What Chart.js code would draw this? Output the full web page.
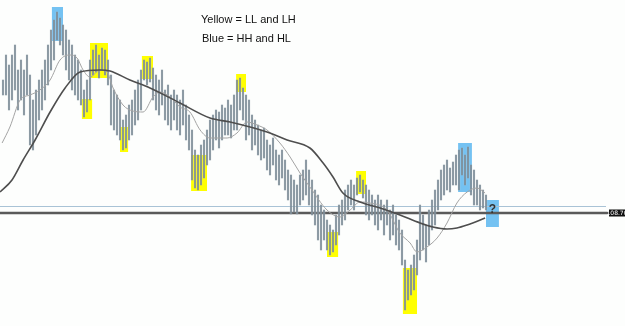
<!DOCTYPE html>
<html>
<head>
<meta charset="utf-8">
<title>LL / LH vs HH / HL</title>
<script src="https://cdn.jsdelivr.net/npm/chart.js@4.4.1/dist/chart.umd.min.js"></script>
<style>
  body { margin: 0; background: #fdfefd; }
  canvas { display: block; }
</style>
</head>
<body>
<canvas id="priceChart" width="625" height="326"></canvas>
<script>
// Bar highs and lows, one per bar
const barHighs = [
  122.0, 124.5, 123.5, 124.5, 125.5, 123.0, 124.0, 123.0, 124.5, 122.5,
  120.0, 121.0, 122.0, 123.0, 124.0, 125.5, 127.0, 128.0, 128.8, 128.2,
  127.5, 127.0, 126.0, 125.5, 124.5, 124.0, 123.0, 121.0, 122.0, 124.0,
  125.0, 125.5, 124.5, 125.2, 125.0, 124.0, 122.5, 121.0, 120.5, 120.0,
  118.0, 118.5, 119.5, 120.0, 121.0, 122.0, 123.0, 124.0, 123.8, 124.2,
  123.2, 122.5, 122.0, 123.0, 121.0, 121.5, 120.5, 121.0, 120.5, 120.0,
  121.0, 119.5, 118.5, 117.0, 115.0, 114.5, 115.5, 116.0, 117.0, 118.0,
  118.5, 119.0, 118.8, 119.5, 119.2, 120.0, 119.5, 120.5, 122.0, 122.2,
  121.2, 120.5, 120.0, 118.5, 118.0, 117.5, 117.0, 117.2, 116.0, 115.5,
  116.2, 115.0, 114.5, 115.0, 114.0, 113.0, 112.5, 112.0, 111.5, 112.5,
  113.0, 114.0, 113.0, 112.0, 111.0, 110.5, 109.5, 109.0, 108.0, 107.5,
  107.0, 108.5, 109.5, 110.0, 111.0, 111.5, 112.0, 111.5, 112.2, 112.5,
  112.0, 111.5, 111.0, 110.5, 110.0, 110.5, 110.0, 109.5, 110.0, 109.0,
  109.5, 108.5, 108.0, 107.0, 104.0, 103.0, 103.5, 104.5, 106.0, 109.5,
  108.5, 107.5, 109.0, 110.0, 111.0, 112.0, 113.0, 113.5, 114.0, 113.2,
  113.8, 114.5, 115.0, 115.2, 114.5, 115.3, 113.5, 113.0, 112.0, 111.5,
  111.0, 110.5
];
const barLows = [
  120.5, 120.5, 119.0, 120.0, 121.0, 119.0, 120.0, 118.5, 120.5, 115.5,
  115.0, 116.5, 118.0, 119.0, 120.0, 121.5, 123.0, 124.0, 126.0, 125.5,
  124.5, 123.0, 122.0, 121.0, 120.5, 120.0, 119.5, 118.3, 118.8, 120.0,
  122.5, 122.8, 122.2, 123.0, 122.5, 121.5, 117.5, 117.0, 116.5, 116.0,
  115.0, 115.2, 116.0, 116.5, 117.5, 118.0, 119.0, 122.0, 121.5, 121.8,
  120.0, 119.0, 118.5, 119.5, 118.0, 117.5, 117.0, 118.0, 117.0, 116.5,
  117.5, 116.0, 115.0, 112.0, 111.2, 111.0, 111.5, 112.2, 113.5, 114.0,
  115.0, 116.0, 115.2, 116.0, 116.5, 116.5, 116.2, 117.0, 117.0, 119.0,
  118.0, 116.0, 116.5, 115.0, 115.5, 114.5, 114.0, 114.2, 113.0, 112.5,
  113.5, 112.0, 111.5, 112.2, 111.0, 110.0, 108.6, 108.8, 108.6, 109.5,
  110.0, 110.5, 109.5, 108.5, 107.5, 106.0, 105.0, 106.0, 105.0, 104.5,
  104.8, 105.5, 106.5, 107.5, 108.0, 109.0, 109.5, 109.0, 110.5, 110.8,
  110.2, 108.5, 108.0, 108.5, 107.5, 107.0, 108.0, 106.5, 107.5, 106.0,
  106.5, 105.5, 105.0, 103.5, 99.0, 100.0, 100.5, 101.0, 102.5, 104.0,
  105.0, 103.8, 105.5, 107.0, 107.5, 109.0, 110.0, 110.5, 111.0, 110.8,
  111.5, 111.5, 111.0, 112.5, 111.5, 112.2, 110.5, 109.5, 109.5, 109.0,
  109.2, 109.0
];

// Moving averages, sampled along their length (bar index, price)
const slowMaX = [-1, 3, 6.7, 10.7, 15.7, 20.7, 25.7, 32.3, 35.7, 42.3, 49, 59, 69, 75.7, 88, 94.7, 102.3, 106.7, 110, 113.3, 119, 125.7, 132.3, 139, 143.3, 148, 151.3, 154.7, 160.7];
const slowMaY = [110.8, 112.0, 114.0, 116.0, 118.8, 121.2, 122.8, 123.0, 122.9, 122.0, 121.2, 119.7, 118.2, 117.8, 116.8, 116.0, 115.2, 113.7, 112.3, 110.7, 109.8, 109.2, 108.5, 107.7, 107.3, 107.1, 107.2, 107.5, 108.2];
const fastMaX = [-0.3, 2.3, 5.7, 9, 12.3, 15.7, 19, 22.3, 24.7, 26.7, 29, 32.3, 34.7, 36.7, 40, 43.3, 46.7, 50, 52.3, 55.7, 59, 62.3, 65.7, 69, 74.7, 78, 81.3, 84.7, 88, 92.3, 95.7, 99, 102.3, 108, 112.3, 115.7, 119, 122.3, 128, 132.3, 135.7, 138, 141.3, 144.7, 148, 151.3, 154.7, 158, 160.7];
const fastMaY = [115.7, 117.3, 120.0, 120.5, 121.0, 122.0, 124.0, 124.5, 124.2, 123.0, 122.3, 123.0, 122.8, 121.2, 119.5, 118.9, 118.8, 120.3, 120.8, 120.3, 119.3, 118.8, 117.0, 116.2, 116.2, 116.7, 117.8, 117.5, 117.0, 115.7, 114.3, 112.7, 111.3, 109.0, 108.3, 109.0, 109.8, 109.7, 109.0, 106.7, 105.7, 104.8, 105.3, 106.2, 107.7, 109.7, 110.8, 111.2, 110.7];

// Swing boxes: bar range and price range
const boxColors = ['blue', 'yellow', 'yellow', 'yellow', 'yellow', 'yellow', 'yellow', 'yellow', 'yellow', 'yellow', 'blue', 'blue'];
const boxFrom = [16.3, 26.3, 29.0, 39.0, 46.3, 62.7, 77.7, 108.0, 117.7, 133.3, 151.7, 161.0];
const boxTo = [20.0, 29.7, 35.0, 41.7, 50.0, 68.0, 81.0, 111.7, 121.0, 138.0, 156.3, 165.3];
const boxTop = [129.3, 120.1, 125.7, 117.3, 124.4, 114.5, 122.6, 106.8, 112.9, 103.2, 115.7, 110.0];
const boxBottom = [125.9, 118.1, 122.2, 114.8, 122.1, 110.9, 120.8, 104.3, 110.6, 98.6, 110.8, 107.3];

// Horizontal levels
const levelBlue = 109.4;
const levelBlack = 108.7;

const legendLines = ['Yellow = LL and LH', 'Blue = HH and HL'];

const barData = barHighs.map((h, i) => ({ x: i, y: [barLows[i], h] }));
const toPoints = (xs, ys) => xs.map((x, i) => ({ x: x, y: ys[i] }));

const overlayPlugin = {
    id: 'overlay',
    beforeDatasetsDraw(chart) {
        const ctx = chart.ctx;
        const xs = chart.scales.x, ys = chart.scales.y;
        ctx.save();
        // boxes under the bars
        boxFrom.forEach((f, i) => {
            const x0 = xs.getPixelForValue(f), x1 = xs.getPixelForValue(boxTo[i]);
            const y0 = ys.getPixelForValue(boxTop[i]), y1 = ys.getPixelForValue(boxBottom[i]);
            ctx.fillStyle = boxColors[i] === 'blue' ? '#74c2f2' : '#ffff00';
            ctx.fillRect(x0, y0, x1 - x0, y1 - y0);
        });
        // levels
        const right = chart.chartArea.right;
        let y = Math.round(ys.getPixelForValue(levelBlue)) + 0.5;
        ctx.strokeStyle = '#a9c3d6';
        ctx.lineWidth = 1;
        ctx.beginPath(); ctx.moveTo(0, y); ctx.lineTo(right - 19, y); ctx.stroke();
        y = ys.getPixelForValue(levelBlack);
        ctx.strokeStyle = '#5a5a5a';
        ctx.lineWidth = 2.5;
        ctx.beginPath(); ctx.moveTo(0, y); ctx.lineTo(right - 16, y); ctx.stroke();
        ctx.fillStyle = '#111';
        ctx.fillRect(right - 16, y - 3.5, 16, 7);
        ctx.fillStyle = '#fff';
        ctx.font = '6px "DejaVu Sans"';
        ctx.textAlign = 'center';
        ctx.textBaseline = 'middle';
        ctx.fillText(levelBlack.toFixed(2), right - 8, y + 0.5);
        ctx.restore();
    },
    afterDatasetsDraw(chart) {
        const ctx = chart.ctx;
        const xs = chart.scales.x, ys = chart.scales.y;
        ctx.save();
        ctx.fillStyle = '#111';
        ctx.font = '11px "Liberation Sans", Arial';
        ctx.textBaseline = 'middle';
        ctx.fillText(legendLines[0], 201, 20);
        ctx.fillText(legendLines[1], 202, 39);
        // question mark in the last blue box
        const last = boxFrom.length - 1;
        ctx.font = 'bold 12px "Liberation Sans", Arial';
        ctx.textAlign = 'center';
        ctx.fillStyle = '#333';
        ctx.fillText('?', xs.getPixelForValue((boxFrom[last] + boxTo[last]) / 2), ys.getPixelForValue(levelBlue - 0.35));
        ctx.restore();
    }
};

const chartCtx = document.getElementById('priceChart').getContext('2d');
const priceChart = new Chart(chartCtx, {
    type: 'bar',
    data: {
        datasets: [
            {
                type: 'line',
                data: toPoints(slowMaX, slowMaY),
                borderColor: '#4e4e4e',
                borderWidth: 1.6,
                pointRadius: 0,
                cubicInterpolationMode: 'monotone',
                order: 0
            },
            {
                type: 'line',
                data: toPoints(fastMaX, fastMaY),
                borderColor: '#a3a3a3',
                borderWidth: 1,
                pointRadius: 0,
                cubicInterpolationMode: 'monotone',
                order: 1
            },
            {
                data: barData,
                backgroundColor: '#7a8a95',
                barThickness: 1,
                grouped: false,
                order: 2
            },
            {
                data: barData,
                backgroundColor: 'rgba(200,208,214,0.4)',
                barThickness: 2,
                grouped: false,
                order: 3
            }
        ]
    },
    options: {
        responsive: false,
        animation: false,
        layout: { padding: 0 },
        scales: {
            x: { type: 'linear', min: -1, max: 207.33, offset: false, display: false },
            y: { min: 97.4, max: 130, display: false }
        },
        plugins: {
            legend: { display: false },
            tooltip: { enabled: false }
        }
    },
    plugins: [overlayPlugin]
});
</script>
</body>
</html>
